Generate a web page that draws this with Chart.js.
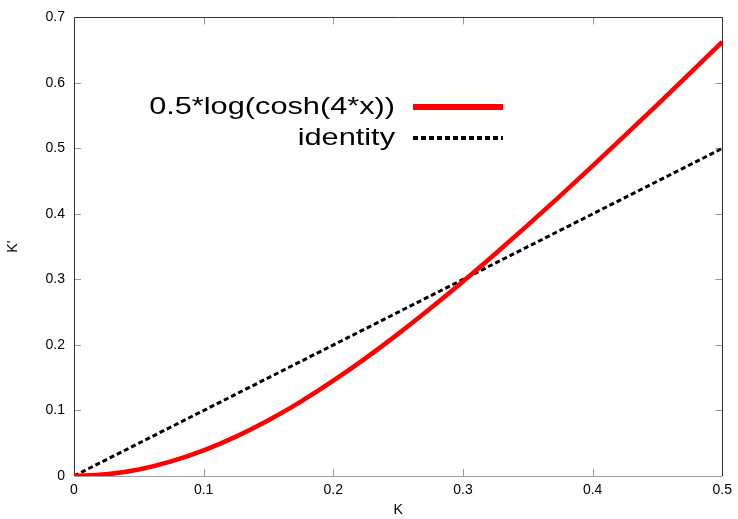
<!DOCTYPE html>
<html>
<head>
<meta charset="utf-8">
<script src="https://cdn.jsdelivr.net/npm/chart.js@4/dist/chart.umd.min.js"></script>
<style>
  html, body { margin: 0; padding: 0; background: #fff; }
  #wrap { width: 738px; height: 519px; }
</style>
</head>
<body>
<div id="wrap"><canvas id="plot"></canvas></div>
<script>
// Values
const kValues = [0, 0.025, 0.05, 0.075, 0.1, 0.125, 0.15, 0.175, 0.2, 0.225, 0.25,
                 0.275, 0.3, 0.325, 0.35, 0.375, 0.4, 0.425, 0.45, 0.475, 0.5];
const logCoshValues = [0, 0.0025, 0.0099, 0.0222, 0.039, 0.0601, 0.0851, 0.1136, 0.1454, 0.1799, 0.2169,
                       0.256, 0.2969, 0.3393, 0.3829, 0.4277, 0.4734, 0.5198, 0.5669, 0.6145, 0.6625];
const identityK = [0, 0.5];
const identityValues = [0, 0.5];
const seriesLabels = ['0.5*log(cosh(4*x))', 'identity'];
const xTicks = [0, 0.1, 0.2, 0.3, 0.4, 0.5];
const yTicks = [0, 0.1, 0.2, 0.3, 0.4, 0.5, 0.6, 0.7];

const FONT = '"Liberation Sans", Arial, Helvetica, sans-serif';

// gnuplot-like frame with inward ticks on all four sides
const framePlugin = {
    id: 'frame',
    beforeDatasetsDraw(chart) {
        const { ctx, chartArea: a, scales } = chart;
        ctx.save();
        ctx.lineWidth = 1;
        ctx.strokeStyle = '#999';
        const tl = 7;
        xTicks.forEach(v => {
            const x = Math.round(scales.x.getPixelForValue(v)) + 0.5;
            ctx.beginPath();
            ctx.moveTo(x, a.bottom); ctx.lineTo(x, a.bottom - tl);
            ctx.moveTo(x, a.top); ctx.lineTo(x, a.top + tl);
            ctx.stroke();
        });
        yTicks.forEach(v => {
            const y = Math.round(scales.y.getPixelForValue(v)) + 0.5;
            ctx.beginPath();
            ctx.moveTo(a.left, y); ctx.lineTo(a.left + tl, y);
            ctx.moveTo(a.right, y); ctx.lineTo(a.right - tl, y);
            ctx.stroke();
        });
        // bottom edge lighter, the others dark
        ctx.strokeStyle = '#a0a0a0';
        ctx.beginPath();
        ctx.moveTo(a.left, Math.round(a.bottom) + 0.5);
        ctx.lineTo(a.right, Math.round(a.bottom) + 0.5);
        ctx.stroke();
        ctx.strokeStyle = '#333';
        ctx.beginPath();
        ctx.moveTo(Math.round(a.left) + 0.5, a.bottom);
        ctx.lineTo(Math.round(a.left) + 0.5, Math.round(a.top) + 0.5);
        ctx.lineTo(Math.round(a.right) + 0.5, Math.round(a.top) + 0.5);
        ctx.lineTo(Math.round(a.right) + 0.5, a.bottom);
        ctx.stroke();
        ctx.restore();
    }
};

// legend inside the plot, text right-aligned with the line sample after it
const keyPlugin = {
    id: 'key',
    afterDatasetsDraw(chart) {
        const { ctx } = chart;
        const textRight = 395;
        const stretch = 1.28; // the key font in the original is drawn wide
        const sampleX0 = 413, sampleX1 = 503;
        const rows = [107, 138];
        ctx.save();
        ctx.font = '24px ' + FONT;
        ctx.fillStyle = '#000';
        ctx.textAlign = 'right';
        ctx.textBaseline = 'middle';
        chart.data.datasets.forEach((ds, i) => {
            const y = rows[i];
            ctx.save();
            ctx.translate(textRight, y);
            ctx.scale(stretch, 1);
            ctx.fillText(ds.label, 0, 0);
            ctx.restore();
            ctx.beginPath();
            ctx.strokeStyle = ds.borderColor;
            ctx.lineWidth = i === 0 ? 6 : 4;
            ctx.setLineDash(ds.borderDash || []);
            ctx.moveTo(sampleX0, y);
            ctx.lineTo(sampleX1, y);
            ctx.stroke();
        });
        ctx.restore();
    }
};

const ctx = document.getElementById('plot').getContext('2d');
new Chart(ctx, {
    type: 'line',
    data: {
        datasets: [{
            label: seriesLabels[0],
            data: kValues.map((k, i) => ({ x: k, y: logCoshValues[i] })),
            borderColor: '#ff0000',
            borderWidth: 4.5,
            pointRadius: 0,
            cubicInterpolationMode: 'monotone',
            fill: false
        }, {
            label: seriesLabels[1],
            data: identityK.map((k, i) => ({ x: k, y: identityValues[i] })),
            borderColor: '#000000',
            borderWidth: 3,
            borderDash: [5, 3],
            pointRadius: 0,
            fill: false
        }]
    },
    options: {
        responsive: true,
        maintainAspectRatio: false,
        animation: false,
        layout: { padding: { top: 12, right: 15, left: 0, bottom: 0 } },
        plugins: {
            legend: { display: false },
            tooltip: { enabled: false }
        },
        scales: {
            x: {
                type: 'linear',
                min: 0,
                max: 0.5,
                afterBuildTicks: s => { s.ticks = xTicks.map(v => ({ value: v })); },
                afterFit: s => { s.height = 43; },
                grid: { display: false, drawTicks: false },
                border: { display: false },
                ticks: {
                    color: '#000',
                    padding: 6,
                    maxRotation: 0,
                    font: { family: FONT, size: 14 },
                    callback: v => String(v)
                },
                title: {
                    display: true,
                    text: 'K',
                    color: '#000',
                    padding: 0,
                    font: { family: FONT, size: 14 }
                }
            },
            y: {
                min: 0,
                max: 0.7,
                afterBuildTicks: s => { s.ticks = yTicks.map(v => ({ value: v })); },
                afterFit: s => { s.width = 74; },
                grid: { display: false, drawTicks: false },
                border: { display: false },
                ticks: {
                    color: '#000',
                    padding: 9,
                    font: { family: FONT, size: 14 },
                    callback: v => String(v)
                },
                title: {
                    display: true,
                    text: "K'",
                    color: '#000',
                    padding: { top: 5, bottom: 0 },
                    font: { family: FONT, size: 14 }
                }
            }
        }
    },
    plugins: [framePlugin, keyPlugin]
});
</script>
</body>
</html>
